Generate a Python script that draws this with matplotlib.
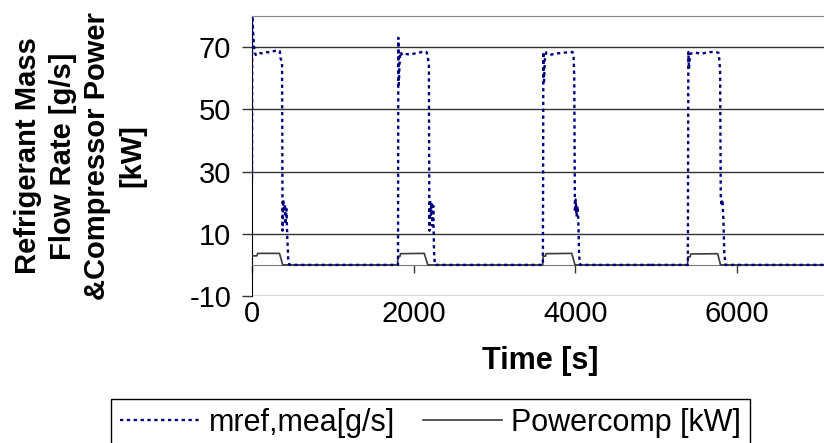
import matplotlib
matplotlib.use("Agg")
import matplotlib.pyplot as plt

plt.rcParams['font.family'] = ['Liberation Sans', 'DejaVu Sans']
plt.rcParams['axes.unicode_minus'] = False

# refrigerant mass flow rate [g/s]
mref_t = [0, 3, 10, 20, 30, 45, 80, 120, 170, 220, 270, 320, 345, 352, 372, 378, 386, 396, 406, 416, 426, 436, 448, 462,
          1800, 1806, 1810, 1816, 1824, 1834, 1860, 1900, 1960, 2020, 2080, 2130, 2160, 2175, 2188, 2194, 2202, 2212,
          2222, 2232, 2242, 2252, 2262,
          3592, 3598, 3604, 3612, 3622, 3640, 3700, 3780, 3860, 3930, 3965, 3978, 3986, 3994, 4004, 4014, 4026, 4036,
          4046, 4058,
          4930, 4936, 4942,
          5385, 5391, 5397, 5405, 5420, 5480, 5560, 5640, 5720, 5770, 5782, 5790, 5798, 5808, 5818, 5830, 5842, 5856,
          7100]
mref_v = [28, 80, 77, 72, 69, 67.5, 68.2, 68.0, 68.4, 68.3, 68.7, 69.0, 68.6, 66.5, 65, 11, 21, 17, 19.5, 13, 18, 9, 2, 0,
          0, 0, 73, 58, 64, 68.5, 67.4, 67.8, 67.6, 68.0, 68.3, 68.6, 68.4, 66.8, 64, 11, 21, 16,
          20, 12.5, 19, 4, 0,
          0, 0, 68.5, 59, 66, 68.3, 67.6, 68.0, 68.2, 68.4, 68.4, 67, 60, 17, 21, 15.5, 19, 14.5,
          3, 0,
          0, -0.6, 0,
          0, 0, 68.4, 63, 67.9, 68.2, 67.9, 68.3, 68.5, 68.2, 65.5, 62, 22, 19, 21, 15, 4, 0,
          0]

# compressor power [kW]
power_t = [0, 60, 70, 340, 380, 1800, 1804, 1830, 1836, 2130, 2175, 3596, 3600, 3630, 3636, 3955, 3995,
           5388, 5392, 5420, 5426, 5760, 5795, 7100]
power_v = [2.9, 2.9, 3.7, 3.7, 0, 0, 2.7, 2.7, 3.6, 3.7, 0, 0, 2.8, 2.8, 3.6, 3.7, 0,
           0, 2.6, 2.6, 3.5, 3.6, 0, 0]

x_ticks = [0, 2000, 4000, 6000]
y_ticks = [-10, 10, 30, 50, 70]

W, H = 824, 443
fig = plt.figure(figsize=(W / 100, H / 100), dpi=100)
ax = fig.add_axes([252 / W, 1 - 296 / H, (W - 252) / W, (296 - 16) / H])

ax.plot(power_t, power_v, color='#3a3a3a', lw=1.2, zorder=3, label='Powercomp [kW]')
ax.plot(mref_t, mref_v, color='#000080', lw=1.7, dashes=(1.4, 1.5), zorder=4, label='mref,mea[g/s]')

ax.set_xlim(0, 7075)
ax.set_ylim(-10, 80)
ax.set_xticks(x_ticks)
ax.set_yticks(y_ticks)

ax.yaxis.grid(True, color='#333333', lw=1.0)
ax.set_axisbelow(True)

ax.spines['right'].set_visible(False)
ax.spines['top'].set_color('#888888')
ax.spines['left'].set_color('black')
ax.spines['bottom'].set_position(('data', 0))
ax.spines['bottom'].set_color('#777777')

ax.tick_params(axis='y', direction='out', length=7, width=1, pad=8, labelsize=21, color='#333333')
ax.tick_params(axis='x', direction='out', length=6, width=1, pad=19, labelsize=21, color='#333333')

fig.text(540 / W, 1 - 361 / H, 'Time [s]', ha='center', va='center', fontsize=22, fontweight='bold')
fig.text(80 / W, 1 - 156 / H, 'Refrigerant Mass\nFlow Rate [g/s]\n&Compressor Power\n[kW]',
         ha='center', va='center', rotation=90, fontsize=21, fontweight='bold',
         multialignment='center', linespacing=1.3)

handles, labels = ax.get_legend_handles_labels()
leg = fig.legend(handles[::-1], labels[::-1], loc='upper left', bbox_to_anchor=(111 / W, 1 - 399 / H),
                 ncol=2, fontsize=22, frameon=True, fancybox=False, framealpha=1, edgecolor='black',
                 handlelength=2.6, handletextpad=0.3, columnspacing=0.9, borderpad=0.3, borderaxespad=0)
leg.get_frame().set_linewidth(1.0)

fig.savefig('out.png', dpi=100)
